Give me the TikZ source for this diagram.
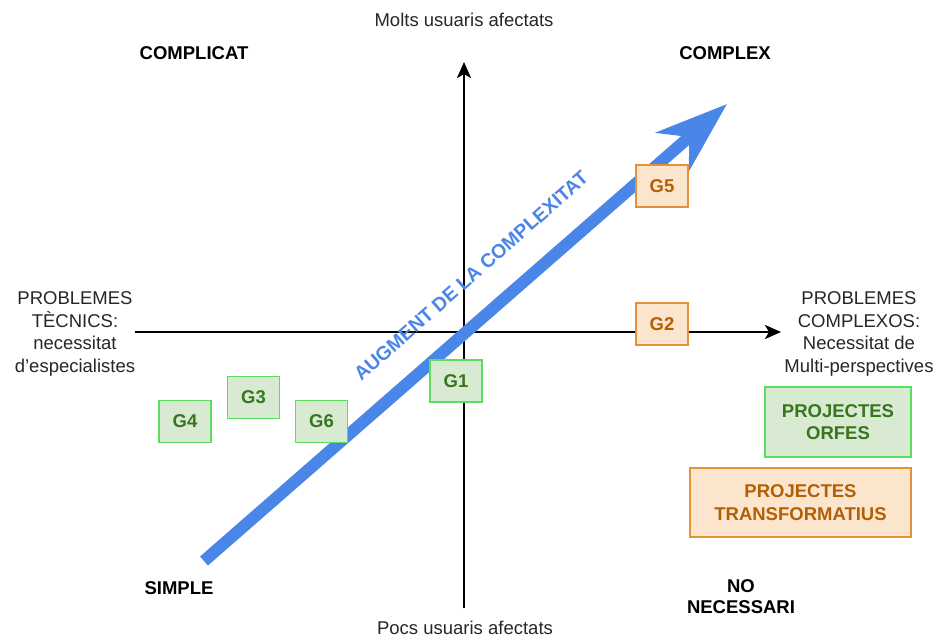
\documentclass[tikz,border=0pt]{standalone}
\usepackage{fontspec}
\setmainfont{Liberation Sans}
\usetikzlibrary{arrows.meta}
\definecolor{flowblue}{HTML}{4A86E8}
\definecolor{grfill}{HTML}{D9EAD3}
\definecolor{grline}{HTML}{5EDC5E}
\definecolor{grtext}{HTML}{38761D}
\definecolor{orfill}{HTML}{FCE5CD}
\definecolor{orline}{HTML}{E69138}
\definecolor{ortext}{HTML}{B45F06}
\begin{document}
\begin{tikzpicture}[x=1pt,y=-1pt,
  every node/.style={font=\fontsize{18.5}{22.7}\selectfont, inner sep=0pt},
  axis/.style={line width=2.4pt, black},
  label/.style={align=center, text=black!85},
  corner/.style={font=\fontsize{18.5}{21}\selectfont\bfseries, align=center},
  gbox/.style={draw=grline, fill=grfill, line width=1.1pt, text=grtext,
    font=\fontsize{18.5}{22.7}\selectfont\bfseries, align=center},
  obox/.style={draw=orline, fill=orfill, line width=1.1pt, text=ortext,
    font=\fontsize{18.5}{22.7}\selectfont\bfseries, align=center},
  small/.style={minimum width=52pt, minimum height=42pt}]
\useasboundingbox (0,0) rectangle (941,639);

% axes
\coordinate (vbot) at (464,608);
\coordinate (vtop) at (464,62);
\coordinate (hleft) at (135,332);
\coordinate (hright) at (781,332);
\draw[axis, -{Stealth[length=16pt,width=14pt,inset=4pt]}] (vbot) -- (vtop);
\draw[axis, -{Stealth[length=16pt,width=14pt,inset=4pt]}] (hleft) -- (hright);

% axis labels
\node[label] (top) at (464,20) {Molts usuaris afectats};
\node[label] (bottom) at (465,628) {Pocs usuaris afectats};
\node[label] (left) at (75,334) {PROBLEMES\\TÈCNICS:\\necessitat\\d’especialistes};
\node[label] (right) at (859,334) {PROBLEMES\\COMPLEXOS:\\Necessitat de\\Multi-perspectives};

% quadrant names
\node[corner] (complicat) at (194,53) {COMPLICAT};
\node[corner] (complex) at (725,53) {COMPLEX};
\node[corner] (simple) at (179,588) {SIMPLE};
\node[corner] (nonec) at (741,597) {NO\\NECESSARI};

% complexity arrow
\coordinate (cstart) at (204,561);
\coordinate (cend) at (727,104);
\draw[flowblue, line width=12pt,
  -{Stealth[length=72pt,width=50pt,inset=22pt]}] (cstart) -- (cend);
\node[text=flowblue, rotate=41.5, font=\fontsize{19.5}{22.7}\selectfont\bfseries]
  (augment) at (471,276) {AUGMENT DE LA COMPLEXITAT};

% groups
\node[obox, small] (g5) at (662,186) {G5};
\node[obox, small] (g2) at (662,324) {G2};
\node[gbox, small] (g1) at (456,381) {G1};
\node[gbox, small] (g4) at (185,421.5) {G4};
\node[gbox, small] (g3) at (253.5,397.5) {G3};
\node[gbox, small] (g6) at (321.5,421.5) {G6};

% legend
\node[gbox, minimum width=146pt, minimum height=70pt] (orfes) at (838,422)
  {PROJECTES\\ORFES};
\node[obox, minimum width=221pt, minimum height=69pt] (transf) at (800.5,502.5)
  {PROJECTES\\TRANSFORMATIUS};
\end{tikzpicture}
\end{document}
